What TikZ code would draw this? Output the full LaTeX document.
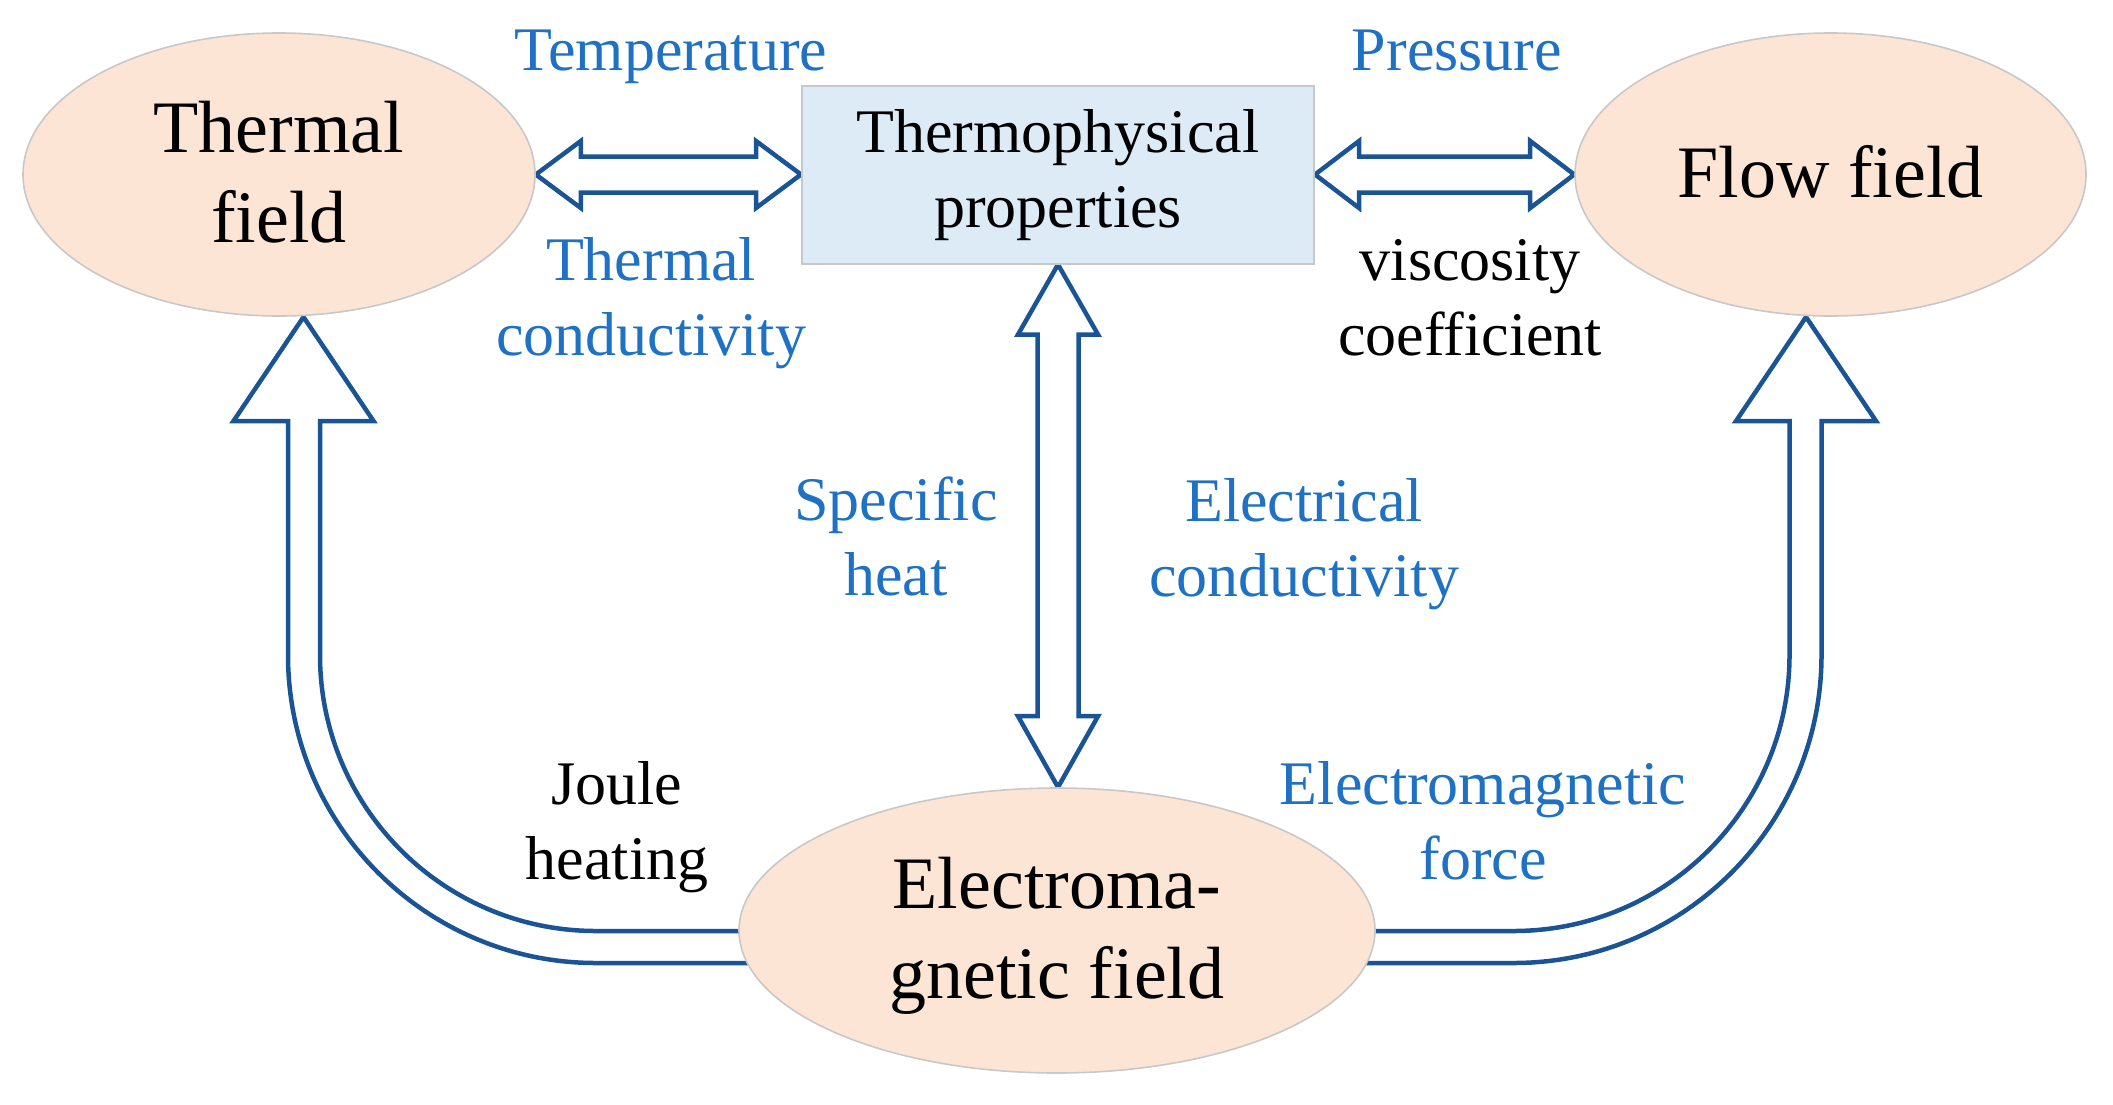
\documentclass[tikz,border=0pt]{standalone}
\usepackage{fontspec}
\setmainfont{Liberation Serif}
\usetikzlibrary{shapes.geometric,backgrounds,calc}
\definecolor{arrowblue}{RGB}{26,84,148}
\definecolor{lblblue}{RGB}{31,113,196}
\definecolor{peach}{RGB}{252,229,213}
\definecolor{lightblue}{RGB}{221,235,247}
\definecolor{bordergray}{RGB}{200,200,200}
\newcommand\bigfont{\fontsize{37}{45}\selectfont}
\newcommand\smallfont{\fontsize{31}{37.5}\selectfont}
\newcommand\topst{\rule{0pt}{31.5pt}}
\newcommand\botst{\rule[-9pt]{0pt}{9pt}}
\begin{document}
\begin{tikzpicture}[x=0.5pt,y=-0.5pt,
  field/.style={ellipse, fill=peach, draw=bordergray, line width=0.8pt, inner sep=0pt, font=\bigfont, align=center},
  propbox/.style={rectangle, fill=lightblue, draw=bordergray, line width=1pt, inner sep=0pt,
    minimum width=256pt, minimum height=89pt, font=\smallfont, align=center},
  lbl/.style={font=\smallfont, align=center, inner sep=0pt, text=lblblue},
  lblk/.style={lbl, text=black},
  fatarrow/.style={draw=arrowblue, line width=2.25pt, line join=miter}
]
\useasboundingbox (0,0) rectangle (2113,1104);

% nodes
\node[field, minimum width=256pt, minimum height=141.5pt] (thermal) at (279,174.5) {\topst Thermal\\field\botst};
\node[field, minimum width=255.5pt, minimum height=141.5pt] (flow) at (1830.5,174.5) {\topst Flow field\botst};
\node[field, minimum width=318pt, minimum height=142.5pt] (em) at (1057,930.5) {\topst Electroma-\\gnetic field\botst};
\node[propbox] (props) at (1058,174.5) {\strut Thermophysical\\properties\strut};

% labels
\node[lbl] (temp) at (671,55) {\strut Temperature};
\node[lbl] (tcond) at (651,302.5) {\strut Thermal\\conductivity\strut};
\node[lbl] (press) at (1457,55) {\strut Pressure};
\node[lblk] (visc) at (1470,302.5) {\strut viscosity\\coefficient\strut};
\node[lbl] (spec) at (896,542.5) {\strut Specific\\heat\strut};
\node[lbl] (econd) at (1304,543.5) {\strut Electrical\\conductivity\strut};
\node[lblk] (joule) at (617,826.5) {\strut Joule\\heating\strut};
\node[lbl] (emf) at (1483,826.5) {\strut Electromagnetic\\force\strut};

% tips of the curved arrows
\coordinate (ltip) at (303.5,317);
\coordinate (rtip) at (1806,317);

\begin{scope}[on background layer]
  % thermal <-> properties
  \draw[fatarrow] (thermal.east) -- ($(thermal.east)+(45,-33.5)$) -- ($(thermal.east)+(45,-18)$)
    -- ($(props.west)+(-45,-18)$) -- ($(props.west)+(-45,-33.5)$) -- (props.west)
    -- ($(props.west)+(-45,33.5)$) -- ($(props.west)+(-45,18)$)
    -- ($(thermal.east)+(45,18)$) -- ($(thermal.east)+(45,33.5)$) -- cycle;
  % properties <-> flow
  \draw[fatarrow] (props.east) -- ($(props.east)+(44,-33.5)$) -- ($(props.east)+(44,-18)$)
    -- ($(flow.west)+(-44,-18)$) -- ($(flow.west)+(-44,-33.5)$) -- (flow.west)
    -- ($(flow.west)+(-44,33.5)$) -- ($(flow.west)+(-44,18)$)
    -- ($(props.east)+(44,18)$) -- ($(props.east)+(44,33.5)$) -- cycle;
  % properties <-> electromagnetic
  \coordinate (vb) at (props.south |- em.north);
  \draw[fatarrow] (props.south) -- ($(props.south)+(40,70)$) -- ($(props.south)+(20.5,70)$)
    -- ($(vb)+(20.5,-71)$) -- ($(vb)+(40,-71)$) -- (vb)
    -- ($(vb)+(-40,-71)$) -- ($(vb)+(-20.5,-71)$)
    -- ($(props.south)+(-20.5,70)$) -- ($(props.south)+(-40,70)$) -- cycle;
  % electromagnetic -> thermal (Joule heating)
  \draw[fatarrow] (820,931) -- (596,931) .. controls (443.6,931) and (320,807.4) .. (320,655)
    -- (320,421) -- (373.5,421) -- (ltip) -- (233.5,421) -- (288,421) -- (288,655)
    .. controls (288,825.1) and (425.9,963) .. (596,963) -- (820,963);
  % electromagnetic -> flow (Electromagnetic force)
  \draw[fatarrow] (1289.5,931) -- (1513.5,931) .. controls (1665.9,931) and (1789.5,807.4) .. (1789.5,655)
    -- (1789.5,421) -- (1736,421) -- (rtip) -- (1876,421) -- (1821.5,421) -- (1821.5,655)
    .. controls (1821.5,825.1) and (1683.6,963) .. (1513.5,963) -- (1289.5,963);
\end{scope}
\end{tikzpicture}
\end{document}
